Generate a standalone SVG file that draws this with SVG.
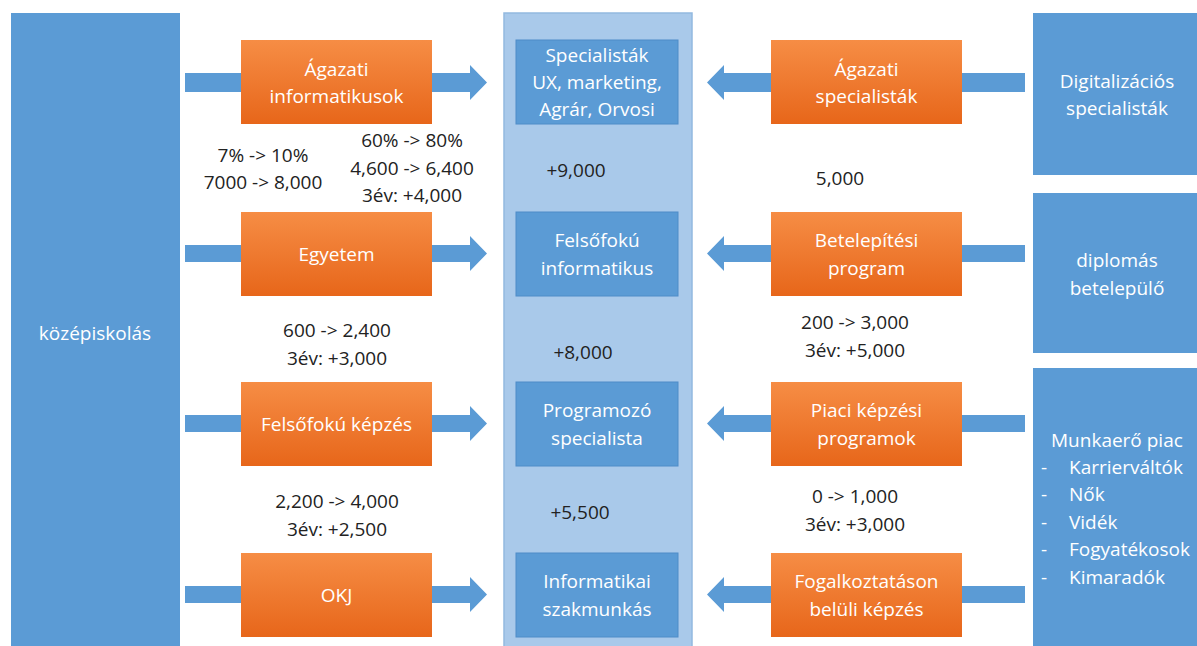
<svg xmlns="http://www.w3.org/2000/svg" width="1197" height="646" viewBox="0 0 1197 646">
<defs>
<linearGradient id="og" x1="0" y1="0" x2="0" y2="1">
<stop offset="0" stop-color="#F68D45"/>
<stop offset="1" stop-color="#E7661A"/>
</linearGradient>
<style>
text{font-family:"Open Sans","Noto Sans","Liberation Sans",sans-serif;font-size:19px;text-anchor:middle}
.w{fill:#FFFFFF}
.k{fill:#222222}
.blue{fill:#5B9BD5}
.cbox{fill:#5B9BD5;stroke:#4F8CC7;stroke-width:1}
.col{fill:#A9C9EA;stroke:#93B9E0;stroke-width:1.5}
.orange{fill:url(#og)}
.arr{fill:#5B9BD5}
.l{text-anchor:start}
</style>
</defs>
<rect width="1197" height="646" fill="#FFFFFF"/>

<g id="kozepiskolas">
<rect class="blue" x="11" y="13" width="169" height="640"/>
<text class="w" x="95" y="340">középiskolás</text>
</g>

<g id="column">
<rect class="col" x="504" y="13" width="188" height="640"/>
</g>

<g id="connectors">
<path class="arr" d="M185 73H470V65L487 82.5L470 100V92H185Z"/>
<path class="arr" d="M185 245H470V236L487 253.5L470 271V262H185Z"/>
<path class="arr" d="M185 415H470V406L487 423.5L470 441V432H185Z"/>
<path class="arr" d="M185 586H470V577L487 594.5L470 612V603H185Z"/>
<path class="arr" d="M1025 73H724V65L707 82.5L724 100V92H1025Z"/>
<path class="arr" d="M1025 245H724V236L707 253.5L724 271V262H1025Z"/>
<path class="arr" d="M1025 415H724V406L707 423.5L724 441V432H1025Z"/>
<path class="arr" d="M1025 586H724V577L707 594.5L724 612V603H1025Z"/>
</g>

<g id="agazati-informatikusok">
<rect class="orange" x="241" y="40" width="191" height="84"/>
<text class="w" x="336.5" y="76">Ágazati</text>
<text class="w" x="336.5" y="103">informatikusok</text>
</g>
<g id="egyetem">
<rect class="orange" x="241" y="212" width="191" height="84"/>
<text class="w" x="336.5" y="261">Egyetem</text>
</g>
<g id="felsofoku-kepzes">
<rect class="orange" x="241" y="382" width="191" height="84"/>
<text class="w" x="336.5" y="431">Felsőfokú képzés</text>
</g>
<g id="okj">
<rect class="orange" x="241" y="553" width="191" height="84"/>
<text class="w" x="336.5" y="602">OKJ</text>
</g>

<g id="specialistak">
<rect class="cbox" x="516" y="40" width="162" height="84"/>
<text class="w" x="597" y="62">Specialisták</text>
<text class="w" x="597" y="89">UX, marketing,</text>
<text class="w" x="597" y="116">Agrár, Orvosi</text>
</g>
<g id="felsofoku-informatikus">
<rect class="cbox" x="516" y="212" width="162" height="84"/>
<text class="w" x="597" y="247">Felsőfokú</text>
<text class="w" x="597" y="275">informatikus</text>
</g>
<g id="programozo-specialista">
<rect class="cbox" x="516" y="382" width="162" height="84"/>
<text class="w" x="597" y="417">Programozó</text>
<text class="w" x="597" y="445">specialista</text>
</g>
<g id="informatikai-szakmunkas">
<rect class="cbox" x="516" y="553" width="162" height="84"/>
<text class="w" x="597" y="588">Informatikai</text>
<text class="w" x="597" y="616">szakmunkás</text>
</g>

<g id="agazati-specialistak">
<rect class="orange" x="771" y="40" width="191" height="84"/>
<text class="w" x="866.5" y="76">Ágazati</text>
<text class="w" x="866.5" y="103">specialisták</text>
</g>
<g id="betelepitesi-program">
<rect class="orange" x="771" y="212" width="191" height="84"/>
<text class="w" x="866.5" y="247">Betelepítési</text>
<text class="w" x="866.5" y="275">program</text>
</g>
<g id="piaci-kepzesi-programok">
<rect class="orange" x="771" y="382" width="191" height="84"/>
<text class="w" x="866.5" y="417">Piaci képzési</text>
<text class="w" x="866.5" y="445">programok</text>
</g>
<g id="fogalkoztatason-beluli-kepzes">
<rect class="orange" x="771" y="553" width="191" height="84"/>
<text class="w" x="866.5" y="588">Fogalkoztatáson</text>
<text class="w" x="866.5" y="616">belüli képzés</text>
</g>

<g id="digitalizacios-specialistak">
<rect class="blue" x="1033" y="13" width="170" height="162"/>
<text class="w" x="1117" y="88">Digitalizációs</text>
<text class="w" x="1117" y="115">specialisták</text>
</g>
<g id="diplomas-betelepulo">
<rect class="blue" x="1033" y="193" width="170" height="160"/>
<text class="w" x="1117" y="267">diplomás</text>
<text class="w" x="1117" y="295">betelepülő</text>
</g>
<g id="munkaero-piac">
<rect class="blue" x="1033" y="368" width="170" height="290"/>
<text class="w l" x="1051" y="447">Munkaerő piac</text>
<text class="w l" x="1041" y="474">-</text>
<text class="w l" x="1069" y="474">Karrierváltók</text>
<text class="w l" x="1041" y="501">-</text>
<text class="w l" x="1069" y="501">Nők</text>
<text class="w l" x="1041" y="529">-</text>
<text class="w l" x="1069" y="529">Vidék</text>
<text class="w l" x="1041" y="556">-</text>
<text class="w l" x="1069" y="556">Fogyatékosok</text>
<text class="w l" x="1041" y="584">-</text>
<text class="w l" x="1069" y="584">Kimaradók</text>
</g>

<g id="labels">
<text class="k" x="263" y="162">7% -&gt; 10%</text>
<text class="k" x="263" y="189">7000 -&gt; 8,000</text>
<text class="k" x="412" y="147">60% -&gt; 80%</text>
<text class="k" x="412" y="175">4,600 -&gt; 6,400</text>
<text class="k" x="412" y="202">3év: +4,000</text>
<text class="k" x="337" y="337">600 -&gt; 2,400</text>
<text class="k" x="337" y="365">3év: +3,000</text>
<text class="k" x="337" y="508">2,200 -&gt; 4,000</text>
<text class="k" x="337" y="536">3év: +2,500</text>
<text class="k" x="576" y="177">+9,000</text>
<text class="k" x="583" y="359">+8,000</text>
<text class="k" x="580" y="519">+5,500</text>
<text class="k" x="840" y="185">5,000</text>
<text class="k" x="855" y="329">200 -&gt; 3,000</text>
<text class="k" x="855" y="357">3év: +5,000</text>
<text class="k" x="855" y="503">0 -&gt; 1,000</text>
<text class="k" x="855" y="531">3év: +3,000</text>
</g>
</svg>
